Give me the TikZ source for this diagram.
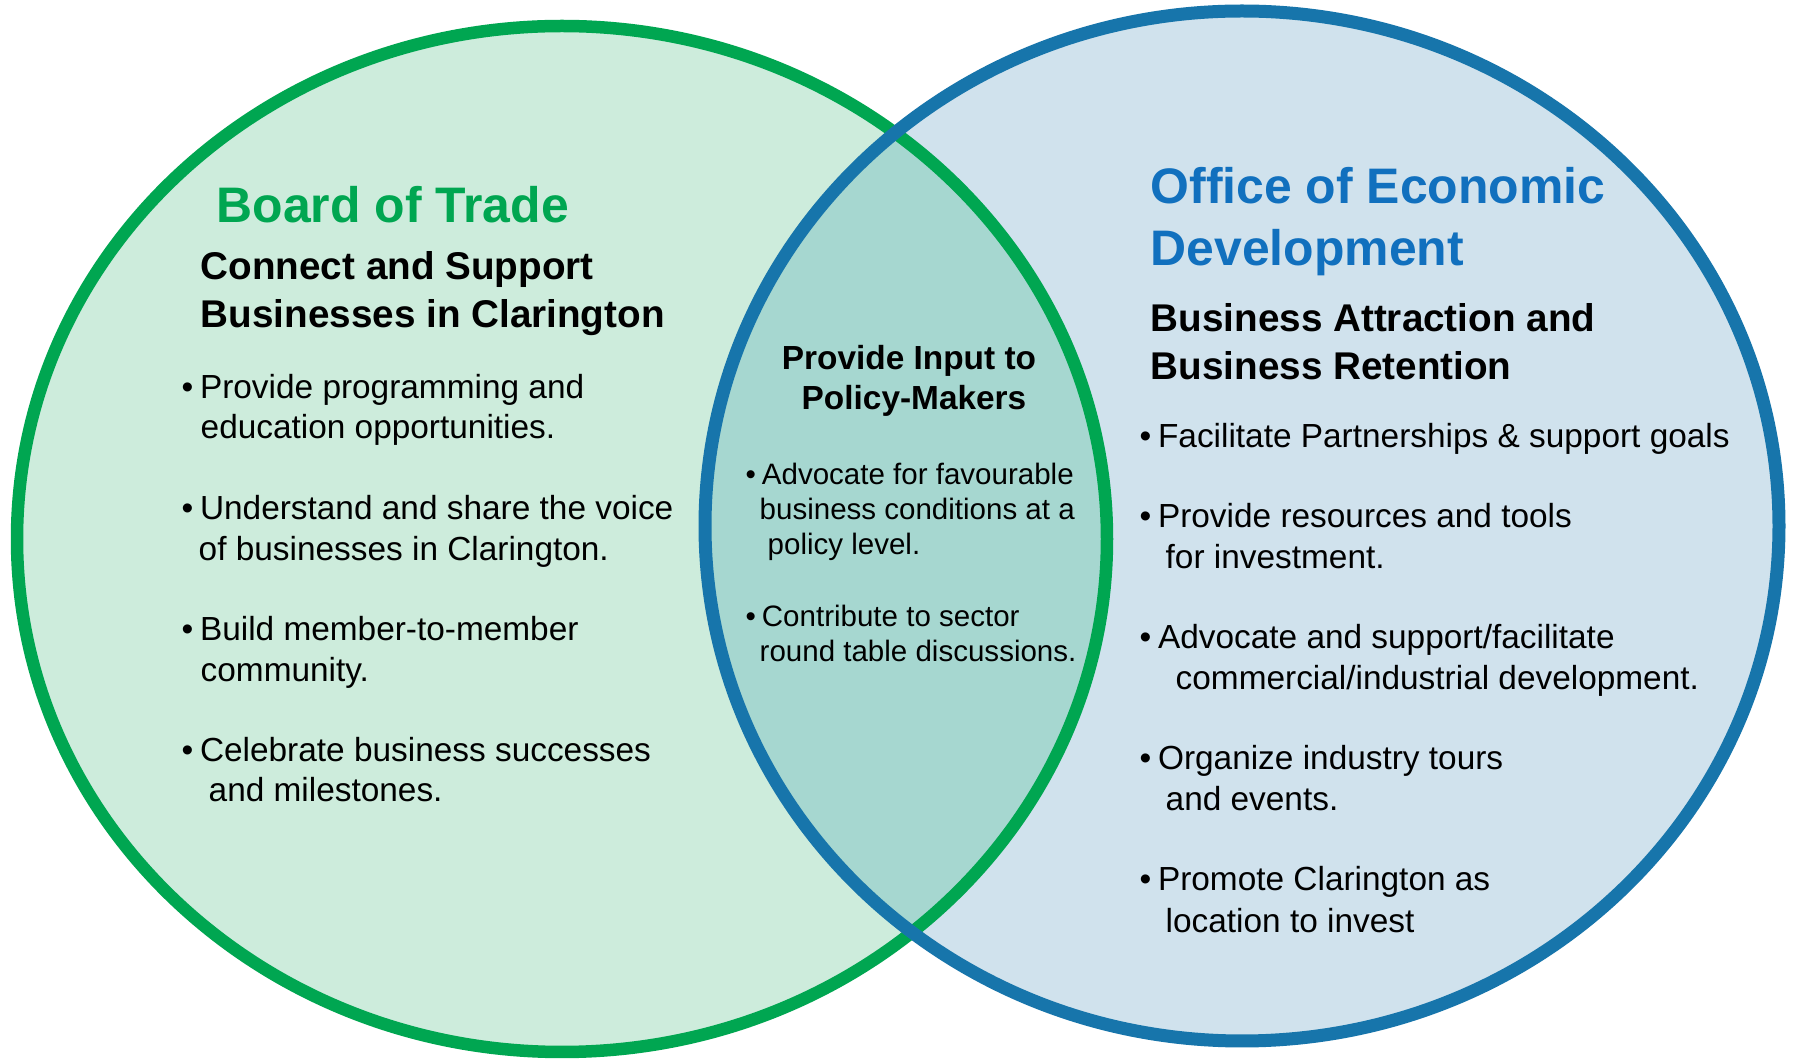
\documentclass[tikz,border=0pt]{standalone}
\usepackage{fontspec}
\setmainfont{Liberation Sans}
\definecolor{botgreen}{RGB}{0,166,81}
\definecolor{botfill}{RGB}{205,236,220}
\definecolor{oedblue}{RGB}{23,117,171}
\definecolor{oedtext}{RGB}{17,112,190}
\definecolor{oedfill}{RGB}{208,226,237}
\definecolor{bothfill}{RGB}{166,215,208}
\newcommand{\bul}{\makebox[0.55em][l]{\textbullet}}

\begin{document}
\begin{tikzpicture}[x=0.1mm,y=-0.1mm,
  title/.style={anchor=base west,inner sep=0pt,font=\fontsize{14.2}{17}\selectfont\bfseries},
  subtitle/.style={anchor=base west,inner sep=0pt,font=\fontsize{11}{13}\selectfont\bfseries},
  item/.style={anchor=base west,inner sep=0pt,font=\fontsize{9.5}{11.4}\selectfont},
  midhead/.style={anchor=base,inner sep=0pt,font=\fontsize{9.5}{11.4}\selectfont\bfseries},
  miditem/.style={anchor=base west,inner sep=0pt,font=\fontsize{8.4}{10}\selectfont}]
\useasboundingbox[fill=white] (0,0) rectangle (1793,1062);

% the two sets and their overlap
\fill[botfill] (562,539) ellipse [x radius=54.5mm,y radius=51.3mm];
\fill[oedfill] (1242,526) ellipse [x radius=53.7mm,y radius=51.5mm];
\begin{scope}
\clip (562,539) ellipse [x radius=54.5mm,y radius=51.3mm];
\fill[bothfill] (1242,526) ellipse [x radius=53.7mm,y radius=51.5mm];
\end{scope}
\draw[botgreen,line width=1.25mm] (562,539) ellipse [x radius=54.5mm,y radius=51.3mm];
\draw[oedblue,line width=1.3mm] (1242,526) ellipse [x radius=53.7mm,y radius=51.5mm];

% left: board of trade
\node (bot) at (216,223) [title,text=botgreen]{Board of Trade};
\node (bots1) at (200,280) [subtitle]{Connect and Support};
\node (bots2) at (200,328) [subtitle]{Businesses in Clarington};

\node (l1a) at (181,399) [item]{\bul Provide programming and};
\node (l1b) at (200,439) [item]{education opportunities.};
\node (l2a) at (181,520) [item]{\bul Understand and share the voice};
\node (l2b) at (198,561) [item]{of businesses in Clarington.};
\node (l3a) at (181,641) [item]{\bul Build member-to-member};
\node (l3b) at (200,682) [item]{community.};
\node (l4a) at (181,762) [item]{\bul Celebrate business successes};
\node (l4b) at (208,802) [item]{and milestones.};

% middle
\node (midh1) at (909,370) [midhead]{Provide Input to};
\node (midh2) at (914,410) [midhead]{Policy-Makers};
\node (m1a) at (745,485) [miditem]{\bul Advocate for favourable};
\node (m1b) at (759,520) [miditem]{business conditions at a};
\node (m1c) at (767,555) [miditem]{policy level.};
\node (m2a) at (745,627) [miditem]{\bul Contribute to sector};
\node (m2b) at (759,662) [miditem]{round table discussions.};

% right: economic development
\node (oed1) at (1150,204) [title,text=oedtext]{Office of Economic};
\node (oed2) at (1150,266) [title,text=oedtext]{Development};
\node (oeds1) at (1150,332) [subtitle]{Business Attraction and};
\node (oeds2) at (1150,380) [subtitle]{Business Retention};

\node (r1a) at (1139,448) [item]{\bul Facilitate Partnerships \& support goals};
\node (r2a) at (1139,528) [item]{\bul Provide resources and tools};
\node (r2b) at (1165,569) [item]{for investment.};
\node (r3a) at (1139,649) [item]{\bul Advocate and support/facilitate};
\node (r3b) at (1175,690) [item]{commercial/industrial development.};
\node (r4a) at (1139,770) [item]{\bul Organize industry tours};
\node (r4b) at (1165,811) [item]{and events.};
\node (r5a) at (1139,891) [item]{\bul Promote Clarington as};
\node (r5b) at (1165,933) [item]{location to invest};
\end{tikzpicture}
\end{document}
